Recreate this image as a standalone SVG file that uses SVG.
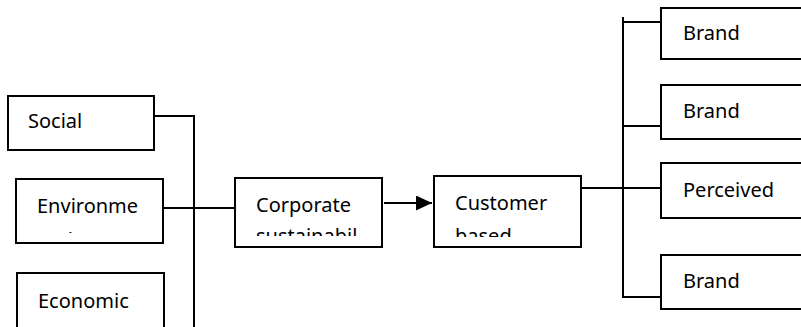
<svg xmlns="http://www.w3.org/2000/svg" width="801" height="327" viewBox="0 0 801 327">
  <style>
    .box { fill: #fff; stroke: #000; stroke-width: 2; }
    .lbl { font-family: "Noto Sans", "Open Sans", sans-serif; font-size: 20px; fill: #000; }
    .wire { fill: none; stroke: #000; stroke-width: 2; }
  </style>
  <defs>
    <marker id="arrow" markerWidth="16" markerHeight="15" refX="16" refY="7.5" orient="auto" markerUnits="userSpaceOnUse">
      <path d="M0,0 L16,7.5 L0,15 Z" fill="#000"/>
    </marker>
    <clipPath id="clipEnv"><rect x="16" y="179" width="147" height="54"/></clipPath>
    <clipPath id="clipCorp"><rect x="235" y="178" width="147" height="58"/></clipPath>
    <clipPath id="clipCust"><rect x="434" y="176" width="147" height="61"/></clipPath>
  </defs>

  <g id="connectors">
    <!-- inputs merge into the vertical bus -->
    <polyline class="wire" points="154,116 194,116 194,327"/>
    <line class="wire" x1="163" y1="208" x2="236" y2="208"/>
    <!-- sustainability to customer-based equity -->
    <line class="wire" x1="384" y1="203" x2="432" y2="203" marker-end="url(#arrow)"/>
    <!-- output bus to the brand boxes -->
    <line class="wire" x1="581" y1="188" x2="663" y2="188"/>
    <line class="wire" x1="623" y1="17" x2="623" y2="298"/>
    <line class="wire" x1="623" y1="22" x2="661" y2="22"/>
    <line class="wire" x1="623" y1="126" x2="661" y2="126"/>
    <line class="wire" x1="622" y1="297" x2="660" y2="297"/>
  </g>

  <g id="social">
    <rect class="box" x="8" y="96" width="146" height="54"/>
    <text class="lbl" x="28" y="128">Social</text>
  </g>

  <g id="environmental">
    <rect class="box" x="16" y="179" width="147" height="64"/>
    <g clip-path="url(#clipEnv)">
      <text class="lbl" x="37" y="213">Environme</text>
      <text class="lbl" x="37" y="247">ntal</text>
    </g>
  </g>

  <g id="economic">
    <rect class="box" x="17" y="273" width="147" height="70"/>
    <text class="lbl" x="38" y="308">Economic</text>
  </g>

  <g id="corporate">
    <rect class="box" x="235" y="178" width="147" height="69"/>
    <g clip-path="url(#clipCorp)">
      <text class="lbl" x="256" y="212">Corporate</text>
      <text class="lbl" x="256" y="243">sustainabil</text>
    </g>
  </g>

  <g id="customer">
    <rect class="box" x="434" y="176" width="147" height="71"/>
    <g clip-path="url(#clipCust)">
      <text class="lbl" x="455" y="210">Customer</text>
      <text class="lbl" x="455" y="243">based</text>
    </g>
  </g>

  <g id="brand1">
    <rect class="box" x="661" y="8" width="160" height="51"/>
    <text class="lbl" x="683" y="40">Brand</text>
  </g>

  <g id="brand2">
    <rect class="box" x="661" y="85" width="160" height="54"/>
    <text class="lbl" x="683" y="118">Brand</text>
  </g>

  <g id="perceived">
    <rect class="box" x="661" y="163" width="160" height="55"/>
    <text class="lbl" x="683" y="197">Perceived</text>
  </g>

  <g id="brand4">
    <rect class="box" x="661" y="255" width="160" height="54"/>
    <text class="lbl" x="683" y="288">Brand</text>
  </g>
</svg>
